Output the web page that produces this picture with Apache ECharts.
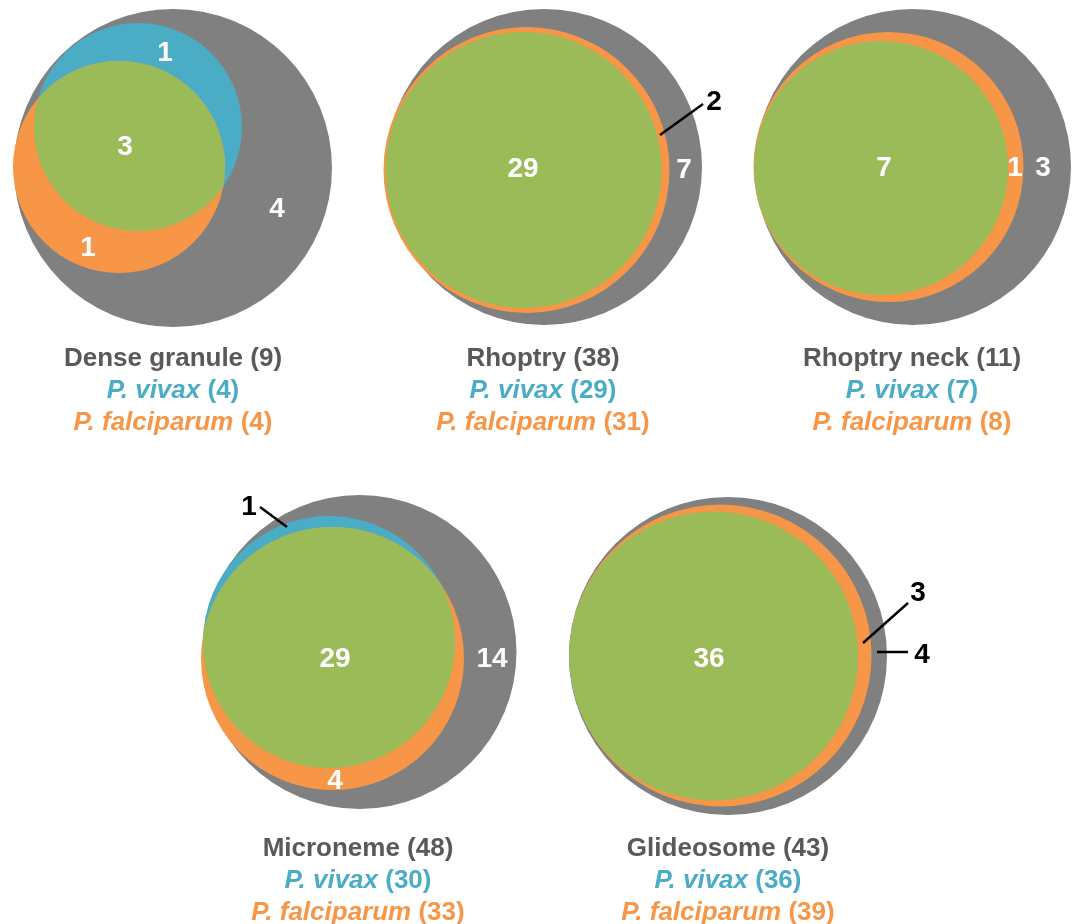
<!DOCTYPE html>
<html>
<head>
<meta charset="utf-8">
<script src="https://cdn.jsdelivr.net/npm/echarts@6/dist/echarts.min.js"></script>
<style>
html,body{margin:0;padding:0;background:#fff;}
#chart{width:1076px;height:924px;}
</style>
</head>
<body>
<div id="chart"></div>
<script>
// ---- Data ----
const organelles = ['Dense granule', 'Rhoptry', 'Rhoptry neck', 'Microneme', 'Glideosome'];
const totalProteins = [9, 38, 11, 48, 43];
const vivaxTotal = [4, 29, 7, 30, 36];
const falciparumTotal = [4, 31, 8, 33, 39];
const vivaxOnly = [1, 0, 0, 1, 0];
const shared = [3, 29, 7, 29, 36];
const falciparumOnly = [1, 2, 1, 4, 3];
const neither = [4, 7, 3, 14, 4];

// ---- Layout (positions / sizes in axis units) ----
const circleLayout = [
  { gray: [173, 168, 159], vivax: [138, 127, 104], falc: [119, 167, 106] },
  { gray: [544, 167, 158], vivax: [523.5, 170, 138], falc: [526.5, 170, 143] },
  { gray: [913, 167, 158], vivax: [881, 168, 127], falc: [888.5, 167, 135] },
  { gray: [359.5, 652, 157], vivax: [329, 642, 126], falc: [332.5, 658.5, 131.5] },
  { gray: [728, 656, 159], vivax: [713.5, 656, 144.5], falc: [720.5, 655.5, 151] }
];
const titleLayout = [[173, 359], [543, 359], [912, 359], [358, 849], [728, 849]];
// label layout per region: [x, y] or {text:[x,y], line:[[x1,y1],[x2,y2]]}
const regionLayout = [
  { vivaxOnly: [165, 53], shared: [125, 147], falciparumOnly: [88, 248], neither: [277, 209] },
  { shared: [523, 169], falciparumOnly: { text: [714, 102], line: [[660, 135], [703, 104]] }, neither: [684, 170] },
  { shared: [884, 168], falciparumOnly: [1015, 168], neither: [1043, 168] },
  { vivaxOnly: { text: [249, 507], line: [[260, 507], [287, 527]] }, shared: [335, 659], falciparumOnly: [335, 781], neither: [492, 659] },
  { shared: [709, 659], falciparumOnly: { text: [918, 593], line: [[863, 643], [908, 603]] }, neither: { text: [922, 655], line: [[877, 652], [908, 652]] } }
];

const COLORS = { gray: '#808080', vivax: '#4BACC6', falc: '#F79646', both: '#9BBB59', title: '#595959' };
const FONT = "'Liberation Sans', Arial, sans-serif";

function circlePts(cx, cy, r, n) {
  const p = [];
  for (let k = 0; k < n; k++) { const t = 2 * Math.PI * k / n; p.push([cx + r * Math.cos(t), cy + r * Math.sin(t)]); }
  return p;
}
function lensPts(c1, r1, c2, r2) {
  const dx = c2[0] - c1[0], dy = c2[1] - c1[1];
  const d = Math.hypot(dx, dy);
  if (d + r1 <= r2) return circlePts(c1[0], c1[1], r1, 240);
  if (d + r2 <= r1) return circlePts(c2[0], c2[1], r2, 240);
  const a = (r1 * r1 - r2 * r2 + d * d) / (2 * d);
  const h = Math.sqrt(Math.max(0, r1 * r1 - a * a));
  const th = Math.atan2(dy, dx);
  const a1 = Math.atan2(h, a), a2 = Math.atan2(h, d - a);
  const N = 120, pts = [];
  for (let k = 0; k <= N; k++) { const t = th - a1 + 2 * a1 * k / N; pts.push([c1[0] + r1 * Math.cos(t), c1[1] + r1 * Math.sin(t)]); }
  for (let k = 0; k <= N; k++) { const t = th + Math.PI - a2 + 2 * a2 * k / N; pts.push([c2[0] + r2 * Math.cos(t), c2[1] + r2 * Math.sin(t)]); }
  return pts;
}

const chart = echarts.init(document.getElementById('chart'), null, { renderer: 'canvas' });

function renderItem(params, api) {
  const i = params.dataIndex;
  const L = circleLayout[i];
  const children = [];
  const circ = (c, color) => {
    const p = api.coord([c[0], c[1]]);
    const r = api.size([c[2], 0])[0];
    return { p, r, el: { type: 'circle', shape: { cx: p[0], cy: p[1], r }, style: { fill: color } } };
  };
  const g = circ(L.gray, COLORS.gray), v = circ(L.vivax, COLORS.vivax), f = circ(L.falc, COLORS.falc);
  children.push(g.el, v.el, f.el);
  children.push({ type: 'polygon', shape: { points: lensPts(v.p, v.r, f.p, f.r) }, style: { fill: COLORS.both } });

  const values = { vivaxOnly: vivaxOnly[i], shared: shared[i], falciparumOnly: falciparumOnly[i], neither: neither[i] };
  const R = regionLayout[i];
  Object.keys(values).forEach(key => {
    const val = values[key];
    const pos = R[key];
    if (!val || !pos) return;
    if (Array.isArray(pos)) {
      const p = api.coord(pos);
      children.push({ type: 'text', x: p[0], y: p[1], style: { text: String(val), fill: '#ffffff', font: 'bold 28px ' + FONT, align: 'center', verticalAlign: 'middle' } });
    } else {
      const p = api.coord(pos.text);
      const a = api.coord(pos.line[0]), b = api.coord(pos.line[1]);
      children.push({ type: 'line', shape: { x1: a[0], y1: a[1], x2: b[0], y2: b[1] }, style: { stroke: '#000', lineWidth: 2.5 } });
      children.push({ type: 'text', x: p[0], y: p[1], style: { text: String(val), fill: '#000000', font: 'bold 28px ' + FONT, align: 'center', verticalAlign: 'middle' } });
    }
  });

  const t = api.coord(titleLayout[i]);
  children.push({ type: 'text', x: t[0], y: t[1], style: { text: organelles[i] + ' (' + totalProteins[i] + ')', fill: COLORS.title, font: 'bold 26px ' + FONT, align: 'center', verticalAlign: 'middle' } });
  const richStyle = (color) => ({
    s: { fill: color, fontFamily: FONT, fontSize: 26, fontWeight: 'bold', fontStyle: 'italic' },
    n: { fill: color, fontFamily: FONT, fontSize: 26, fontWeight: 'bold' }
  });
  children.push({ type: 'text', x: t[0], y: t[1] + 32, style: { text: '{s|P. vivax} {n|(' + vivaxTotal[i] + ')}', rich: richStyle(COLORS.vivax), fill: COLORS.vivax, font: 'bold 26px ' + FONT, align: 'center', verticalAlign: 'middle' } });
  children.push({ type: 'text', x: t[0], y: t[1] + 64, style: { text: '{s|P. falciparum} {n|(' + falciparumTotal[i] + ')}', rich: richStyle(COLORS.falc), fill: COLORS.falc, font: 'bold 26px ' + FONT, align: 'center', verticalAlign: 'middle' } });

  return { type: 'group', children };
}

chart.setOption({
  animation: false,
  backgroundColor: '#ffffff',
  grid: { left: 0, right: 0, top: 0, bottom: 0 },
  xAxis: { type: 'value', min: 0, max: 1076, show: false },
  yAxis: { type: 'value', min: 0, max: 924, inverse: true, show: false },
  series: [{
    type: 'custom',
    coordinateSystem: 'cartesian2d',
    clip: false,
    renderItem,
    data: organelles.map((n, i) => [i, totalProteins[i]])
  }]
});
</script>
</body>
</html>
